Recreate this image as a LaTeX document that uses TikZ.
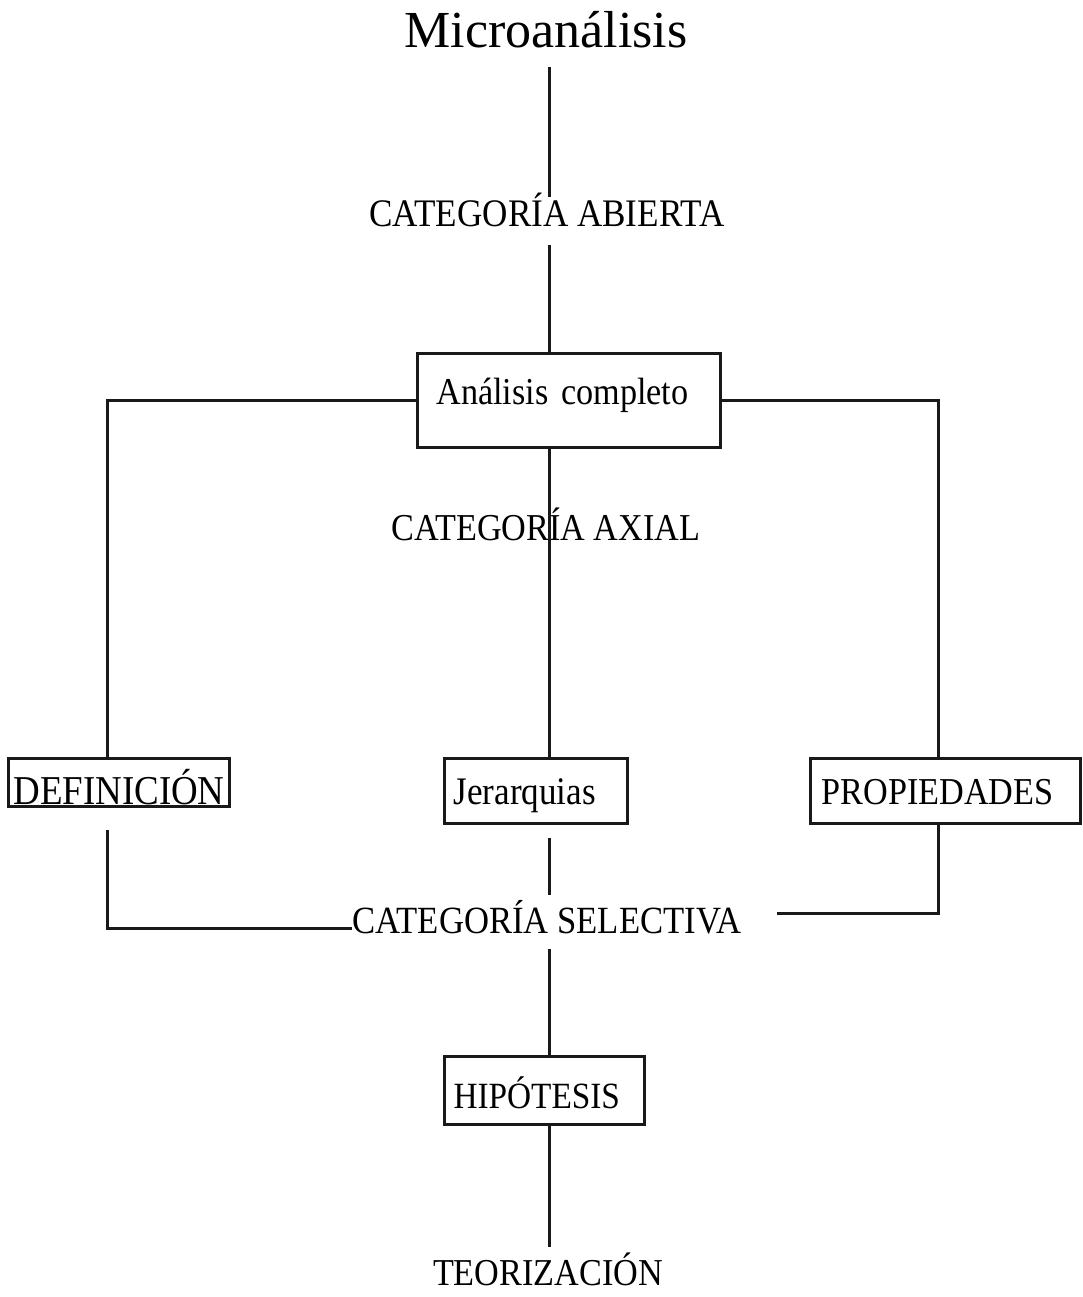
\documentclass[tikz,border=0pt]{standalone}
\usepackage{fontspec}
\setmainfont{Liberation Serif}
\newfontfamily\labfont[FakeStretch=0.9]{Liberation Serif}
\begin{document}
\begin{tikzpicture}[x=1pt,y=-1pt,
  conn/.style={line width=3pt, draw=black!90},
  lbl/.style={inner sep=0pt, anchor=base},
  boxn/.style={draw=black!90, line width=3pt, anchor=north west, inner ysep=0pt, align=left},
  lab/.style={font=\labfont\fontsize{#1}{#1}\selectfont},
  ]
\useasboundingbox[fill=white] (0,0) rectangle (1082,1297);

\coordinate (spine) at (549,0);
\coordinate (lcol) at (107,0);
\coordinate (rcol) at (938,0);
\coordinate (rend) at (777,913);

\node[lbl, font=\fontsize{52}{56}\selectfont, text depth=19pt] (micro) at (546,48) {Microanálisis};
\node[lbl, lab=39, text height=30pt, text depth=18pt] (abierta) at (547,227) {CATEGORÍA ABIERTA};
\node[boxn, lab=38, inner xsep=19pt, text width=265pt, text height=51pt, text depth=43pt] (completo) at (416,352) {Análisis completo};
\node[lbl, lab=38] (axial) at (546,540) {CATEGORÍA AXIAL};
\node[boxn, lab=41, inner xsep=5pt, text width=211pt, text height=46pt, text depth=2pt] (def) at (7,757) {DEFINICIÓN};
\node[boxn, lab=39, inner xsep=9pt, text width=165pt, text height=46pt, text depth=19pt] (jer) at (443,757) {Jerarquias};
\node[boxn, lab=38, inner xsep=11pt, text width=248pt, text height=46pt, text depth=19pt] (prop) at (809,757) {PROPIEDADES};
\node[lbl, lab=38.5, text height=26pt, text depth=16pt] (selectiva) at (547,933) {CATEGORÍA SELECTIVA};
\node[boxn, lab=37, inner xsep=9pt, text width=182pt, text height=52pt, text depth=16pt] (hip) at (443,1055) {HIPÓTESIS};
\node[lbl, lab=38, text height=38pt] (teor) at (548,1285) {TEORIZACIÓN};

\draw[conn] (micro.south -| spine) -- (abierta.north -| spine);
\draw[conn] (abierta.south -| spine) -- (completo.north -| spine);
\draw[conn] (completo.south -| spine) -- (jer.north -| spine);
\draw[conn] (completo.west) -| (lcol |- def.north);
\draw[conn] (completo.east) -| (rcol |- prop.north);
\draw[conn, shorten <=22pt] (lcol |- def.south) |- (selectiva.west);
\draw[conn, shorten <=13pt, shorten >=12pt] (jer.south -| spine) -- (selectiva.north -| spine);
\draw[conn] (selectiva.south -| spine) -- (hip.north -| spine);
\draw[conn] (rcol |- prop.south) |- (rend);
\draw[conn] (hip.south -| spine) -- (teor.north -| spine);
\end{tikzpicture}
\end{document}
